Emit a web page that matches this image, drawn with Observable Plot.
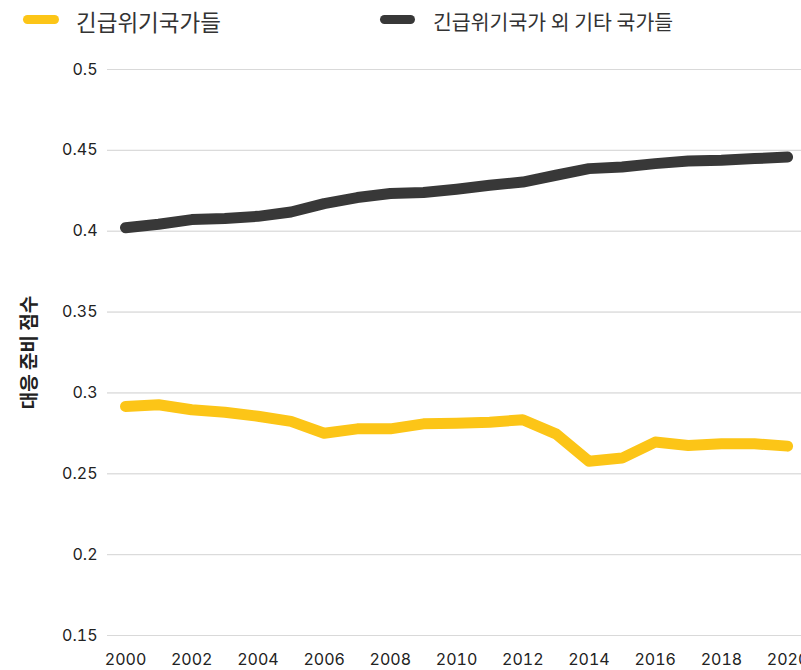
<!DOCTYPE html>
<html><head><meta charset="utf-8">
<script src="https://cdn.jsdelivr.net/npm/d3@7"></script>
<script src="https://cdn.jsdelivr.net/npm/@observablehq/plot@0.6"></script>
<style>
body{margin:0;background:#fff;width:801px;height:670px;overflow:hidden;}
#legend{position:relative;height:40px;width:801px;font-family:"Noto Sans CJK KR",sans-serif;color:#333;}
.sw{position:absolute;height:9px;border-radius:5px;top:15px;}
.lt{position:absolute;line-height:1;white-space:nowrap;}
</style></head><body>
<div id="legend"></div>
<div id="chart"></div>
<script>
const years = [2000,2001,2002,2003,2004,2005,2006,2007,2008,2009,2010,2011,2012,2013,2014,2015,2016,2017,2018,2019,2020];
const crisis = [0.2916,0.2927,0.2896,0.2881,0.2856,0.2824,0.2751,0.2778,0.2778,0.2809,0.2813,0.2819,0.2834,0.2747,0.2578,0.2597,0.2696,0.2675,0.2686,0.2686,0.2671];
const others = [0.4022,0.4043,0.4072,0.4078,0.4092,0.4119,0.4171,0.4208,0.4233,0.4239,0.4260,0.4284,0.4304,0.4346,0.4387,0.4397,0.4418,0.4434,0.4439,0.4449,0.4459];
const seriesNames = ["긴급위기국가들","긴급위기국가 외 기타 국가들"];
const seriesColors = ["#fcc517","#383838"];
const yTicks = [0.15,0.2,0.25,0.3,0.35,0.4,0.45,0.5];
const xTicks = [2000,2002,2004,2006,2008,2010,2012,2014,2016,2018,2020];
const yLabel = "대응 준비 점수";

const data = [];
years.forEach((y,i)=>{
  data.push({year:y, value:crisis[i], series:seriesNames[0]});
  data.push({year:y, value:others[i], series:seriesNames[1]});
});

// legend
const leg = document.getElementById("legend");
const legSpec = [
  {sw:23, swW:36, tx:76, fs:22.5},
  {sw:380, swW:35, tx:433, fs:20.5}
];
seriesNames.forEach((n,i)=>{
  const s = document.createElement("div");
  s.className="sw"; s.style.left=legSpec[i].sw+"px"; s.style.width=legSpec[i].swW+"px"; s.style.background=seriesColors[i];
  leg.appendChild(s);
  const t = document.createElement("div");
  t.className="lt"; t.style.left=legSpec[i].tx+"px"; t.style.fontSize=legSpec[i].fs+"px";
  t.style.top=(22-legSpec[i].fs*0.55)+"px";
  t.textContent=n;
  leg.appendChild(t);
});

const chart = Plot.plot({
  width: 801,
  height: 630,
  marginLeft: 107,
  marginRight: 0,
  marginTop: 29,
  marginBottom: 35,
  style: {fontFamily: "Inter, 'Liberation Sans', Arial, sans-serif", fontSize: "16px", color: "#222", background: "#fff", overflow: "visible"},
  x: {domain: [1999.456, 2020.42], ticks: xTicks, tickFormat: d => String(d), tickSize: 0, tickPadding: 18, label: null},
  y: {domain: [0.15, 0.5], ticks: yTicks, tickFormat: d => String(+d.toFixed(2)), tickSize: 0, tickPadding: 10, label: null, grid: true},
  color: {domain: seriesNames, range: seriesColors},
  marks: [
    Plot.gridY(yTicks, {stroke: "#d9d9d9", strokeOpacity: 1, strokeWidth: 1}),
    Plot.lineY(data, {x: "year", y: "value", z: "series", stroke: "series", strokeWidth: 11, strokeLinecap: "round", strokeLinejoin: "round"}),
    Plot.text([yLabel], {text: d => d, frameAnchor: "left", textAnchor: "middle", rotate: -90, dx: -78, fontSize: 19, fontWeight: 600, fontFamily: "'Noto Sans CJK KR', sans-serif", fill: "#222"})
  ]
});
document.getElementById("chart").appendChild(chart);
</script>
</body></html>
